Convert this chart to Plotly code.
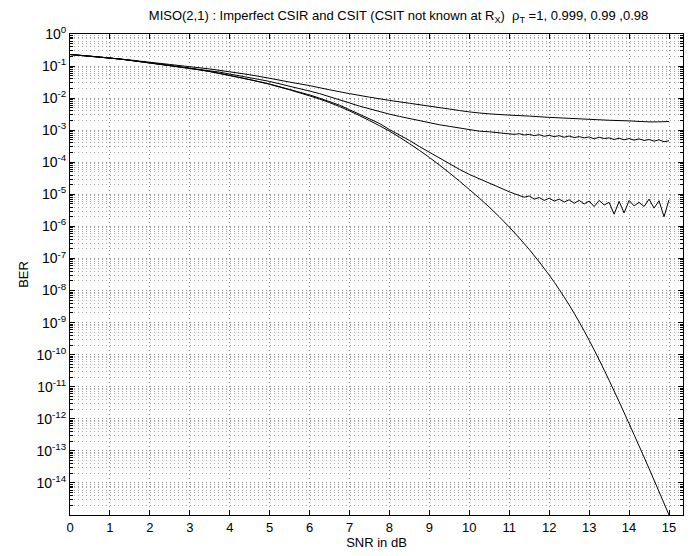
import numpy as np
import plotly.graph_objects as go

# SNR grids (dB)
snr_coarse = np.arange(0, 15.01, 0.5)
snr_sim = np.concatenate([np.arange(0, 11, 0.25), np.arange(11, 15.01, 0.125)])

# log10(BER)
exp_rho_1 = [-0.64, -0.69, -0.75, -0.82, -0.90, -0.98, -1.07, -1.17, -1.29, -1.42,
             -1.57, -1.74, -1.93, -2.14, -2.40, -2.70, -3.03, -3.42, -3.85, -4.33,
             -4.85, -5.40, -6.02, -6.72, -7.52, -8.45, -9.55, -10.80, -12.15, -13.55,
             -15.00]

exp_rho_098 = [-0.64, -0.69, -0.75, -0.81, -0.88, -0.95, -1.02, -1.09, -1.18, -1.27,
               -1.38, -1.50, -1.61, -1.74, -1.86, -1.97, -2.07, -2.16, -2.25, -2.34,
               -2.43, -2.49, -2.53, -2.56, -2.60, -2.63, -2.66, -2.69, -2.71, -2.74,
               -2.73]

exp_rho_0999 = [-0.64, -0.665, -0.69, -0.72, -0.75, -0.78, -0.82, -0.86, -0.90, -0.94,
                -0.98, -1.02, -1.07, -1.12, -1.17, -1.23, -1.29, -1.35, -1.42, -1.49,
                -1.56, -1.64, -1.72, -1.81, -1.90, -2.00, -2.10, -2.22, -2.36, -2.50,
                -2.64, -2.79, -2.98, -3.14, -3.32, -3.51, -3.69, -3.87, -4.05, -4.22,
                -4.38, -4.52, -4.66, -4.79,
                -4.92, -4.98, -5.03, -5.09, -5.05, -5.15, -5.10, -5.19, -5.12, -5.21,
                -5.15, -5.24, -5.17, -5.28, -5.19, -5.30, -5.21, -5.38, -5.19, -5.33,
                -5.25, -5.62, -5.22, -5.58, -5.19, -5.36, -5.25, -5.38, -5.15, -5.43,
                -5.20, -5.70, -5.17]

exp_rho_099 = [-0.64, -0.665, -0.69, -0.72, -0.75, -0.78, -0.82, -0.86, -0.89, -0.93,
               -0.97, -1.01, -1.05, -1.09, -1.14, -1.19, -1.25, -1.30, -1.36, -1.42,
               -1.48, -1.55, -1.62, -1.70, -1.78, -1.86, -1.95, -2.05, -2.15, -2.25,
               -2.34, -2.42, -2.50, -2.57, -2.64, -2.70, -2.77, -2.83, -2.88, -2.93,
               -2.98, -3.03, -3.05, -3.08,
               -3.10, -3.13, -3.11, -3.15, -3.13, -3.17, -3.14, -3.19, -3.16, -3.20,
               -3.17, -3.22, -3.18, -3.23, -3.20, -3.24, -3.21, -3.27, -3.22, -3.26,
               -3.24, -3.29, -3.25, -3.30, -3.26, -3.31, -3.27, -3.32, -3.29, -3.34,
               -3.30, -3.36, -3.33]

decades = list(range(0, -15, -1))
ytick_vals = [10.0 ** d for d in decades]
ytick_text = ['10<sup>%d</sup>' % d for d in decades]
yminor_vals = [m * 10.0 ** d for d in range(-15, 0) for m in range(2, 10)]

fig = go.Figure()
for x, e, shape in [(snr_coarse, exp_rho_1, 'spline'),
                    (snr_coarse, exp_rho_098, 'spline'),
                    (snr_sim, exp_rho_0999, 'linear'),
                    (snr_sim, exp_rho_099, 'linear')]:
    fig.add_trace(go.Scatter(
        x=x, y=10.0 ** np.array(e),
        mode='lines',
        line=dict(color='black', width=1, shape=shape),
        hoverinfo='x+y'))

grid_col = 'rgba(0,0,0,0.45)'
fig.update_layout(
    width=690, height=548,
    margin=dict(l=62, r=15, t=26, b=41),
    paper_bgcolor='white', plot_bgcolor='white',
    showlegend=False,
    font=dict(family='Liberation Sans, Arial, sans-serif', size=13, color='black'),
    title=dict(
        text='MISO(2,1) : Imperfect CSIR and CSIT (CSIT not known at R<sub>X</sub>)  '
             'ρ<sub>T</sub> =1, 0.999, 0.99 ,0.98',
        x=0.566, xanchor='center', y=0.994, yanchor='top',
        font=dict(size=13)),
    xaxis=dict(
        range=[0, 15.35], automargin=False,
        tickmode='linear', tick0=0, dtick=1,
        ticks='inside', ticklen=5, tickcolor='black',
        showline=True, linecolor='black', linewidth=1, mirror='allticks',
        showgrid=True, gridcolor=grid_col, griddash='1px,3px', gridwidth=1,
        zeroline=False,
        title=dict(text='SNR in dB', standoff=0, font=dict(size=13)),
        tickfont=dict(size=13)),
    yaxis=dict(
        type='log', range=[-15, 0], automargin=False,
        tickmode='array', tickvals=ytick_vals, ticktext=ytick_text,
        ticks='inside', ticklen=5, tickcolor='black',
        showline=True, linecolor='black', linewidth=1, mirror='allticks',
        showgrid=True, gridcolor=grid_col, griddash='1px,3px', gridwidth=1,
        zeroline=False,
        minor=dict(tickmode='array', tickvals=yminor_vals, ticks='inside',
                   ticklen=3, tickcolor='black', showgrid=True,
                   gridcolor='rgba(0,0,0,0.35)', griddash='1px,3px', gridwidth=1),
        title=dict(text='BER', standoff=4, font=dict(size=13)),
        tickfont=dict(size=14)),
)

fig.write_html("out.html")
